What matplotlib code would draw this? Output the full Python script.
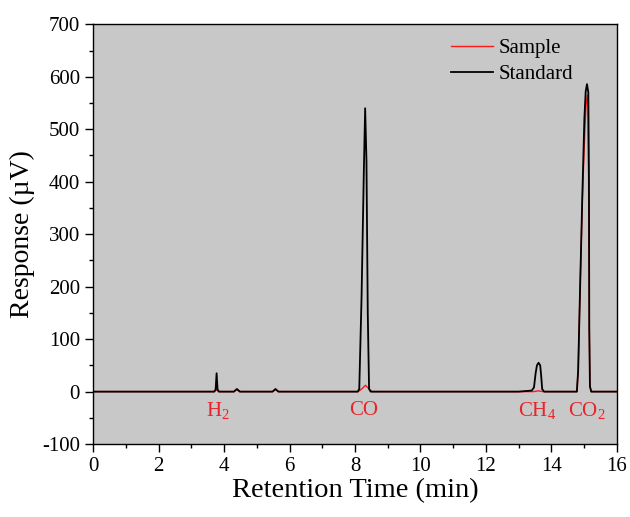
import matplotlib
matplotlib.use('Agg')
import matplotlib.pyplot as plt
from matplotlib.ticker import MultipleLocator

plt.rcParams['font.family'] = ['Liberation Serif', 'DejaVu Serif']
plt.rcParams['mathtext.fontset'] = 'custom'
plt.rcParams['mathtext.rm'] = 'Liberation Serif'
plt.rcParams['mathtext.it'] = 'Liberation Serif'
plt.rcParams['axes.unicode_minus'] = False

# points (time in min, response in uV)
standard_time = [0, 3.70, 3.74, 3.77, 3.80, 3.84, 4.30, 4.39, 4.48, 5.48, 5.57, 5.66,
                 8.08, 8.13, 8.20, 8.27, 8.31, 8.35, 8.39, 8.43, 8.48,
                 13.00, 13.40, 13.47, 13.52, 13.56, 13.61, 13.66, 13.69, 13.72, 13.78,
                 14.78, 14.82, 14.88, 14.95, 15.01, 15.05, 15.09, 15.13, 15.15, 15.16, 15.18, 15.22, 16]
standard_resp = [0, 0, 4, 35, 4, 0, 0, 5, 0, 0, 5, 0,
                 0, 5, 180, 420, 540, 440, 150, 5, 0,
                 0, 2, 8, 35, 50, 55, 50, 30, 5, 0,
                 0, 40, 200, 380, 520, 572, 586, 570, 400, 120, 10, 0, 0]

sample_time = [0, 3.68, 3.77, 3.86, 4.30, 4.39, 4.48, 5.48, 5.57, 5.66,
               8.10, 8.22, 8.32, 8.42, 8.52,
               13.45, 13.60, 13.75,
               14.78, 14.82, 14.88, 14.95, 15.02, 15.06, 15.10, 15.12, 15.14, 15.16, 15.18, 15.22, 16]
sample_resp = [0, 0, 3, 0, 0, 4, 0, 0, 4, 0,
               0, 6, 12, 6, 0,
               0, 1.5, 0,
               0, 40, 200, 370, 490, 545, 565, 540, 400, 120, 10, 0, 0]

gas_labels = ['H$_2$', 'CO', 'CH$_4$', 'CO$_2$']
gas_times = [3.8, 8.25, 13.55, 15.1]


def main():
    fig = plt.figure(figsize=(6.3, 5.17), dpi=100)
    ax = fig.add_axes([0.148, 0.141, 0.831, 0.812])
    ax.set_facecolor('#c8c8c8')

    ax.plot(sample_time, sample_resp, color='#ff1a1a', lw=1.0, label='Sample', zorder=2)
    ax.plot(standard_time, standard_resp, color='black', lw=1.3, label='Standard', zorder=3)

    for lab, t in zip(gas_labels, gas_times):
        ax.text(t, -36, lab, color='#e8242a', fontsize=15, ha='center', va='center')

    ax.set_xlim(0, 16)
    ax.set_ylim(-100, 700)
    ax.xaxis.set_major_locator(MultipleLocator(2))
    ax.xaxis.set_minor_locator(MultipleLocator(1))
    ax.yaxis.set_major_locator(MultipleLocator(100))
    ax.yaxis.set_minor_locator(MultipleLocator(50))
    ax.tick_params(which='major', direction='out', length=6, width=1, labelsize=15)
    ax.tick_params(which='minor', direction='out', length=3, width=1)
    for sp in ax.spines.values():
        sp.set_linewidth(1.0)

    ax.set_xlabel('Retention Time (min)', fontsize=20.5, labelpad=1)
    ax.set_ylabel('Response (\u00b5V)', fontsize=20, labelpad=5)

    ax.legend(loc='upper right', frameon=False, fontsize=15, handlelength=2.0,
              bbox_to_anchor=(0.945, 1.0), borderaxespad=0.3, labelspacing=0.3,
              handletextpad=0.3)

    fig.savefig('out.png', dpi=100)


if __name__ == '__main__':
    main()
